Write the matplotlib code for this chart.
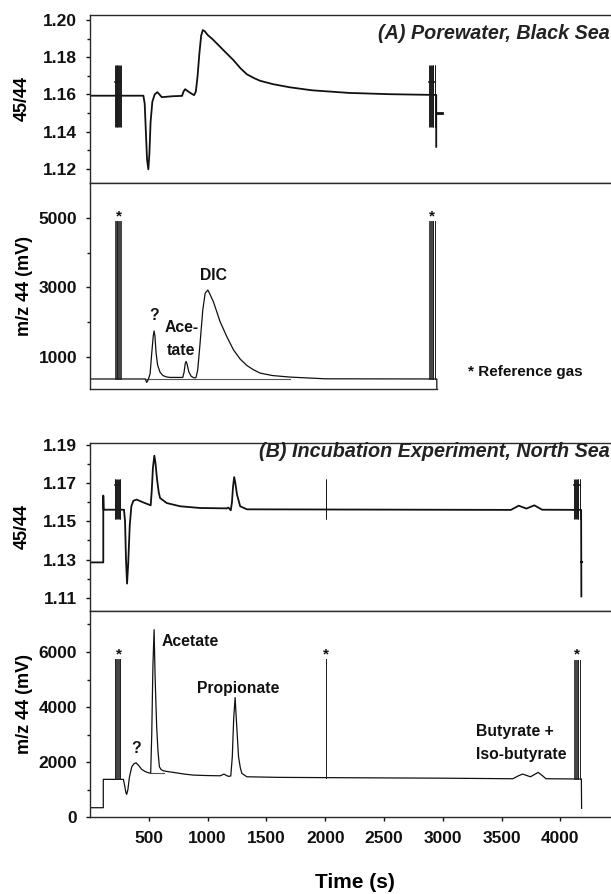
import matplotlib
matplotlib.use("Agg")
import matplotlib.pyplot as plt
from matplotlib.ticker import FixedLocator, FormatStrFormatter, NullLocator

# ---------------- data ----------------
# (A) Porewater, Black Sea -- 45/44 ratio trace (time s, ratio)
a_ratio_t = [0, 454, 465, 475, 485, 496, 505, 515, 530, 550, 573, 590, 610, 700, 783, 795, 809, 830,
             860, 885, 900, 915, 930, 945, 959, 975, 1000, 1040, 1078, 1150, 1220, 1280, 1334, 1400,
             1447, 1556, 1700, 1887, 2200, 2551, 2940, 2944, 2944]
a_ratio_v = [1.1593, 1.1593, 1.155, 1.140, 1.125, 1.1197, 1.128, 1.145, 1.156, 1.160, 1.1612, 1.160,
             1.1585, 1.1590, 1.1592, 1.1615, 1.1628, 1.1618, 1.1605, 1.1596, 1.1615, 1.170, 1.182,
             1.1915, 1.1946, 1.1940, 1.1920, 1.1898, 1.1874, 1.1828, 1.1784, 1.1740, 1.1708, 1.1686,
             1.1673, 1.1655, 1.1638, 1.1622, 1.1608, 1.1601, 1.1597, 1.1597, 1.1318]
a_ratio_tail_t = [2946, 2992]
a_ratio_tail_v = [1.1498, 1.1498]

# (A) m/z 44 trace (time s, mV)
a_mass_t = [0, 470, 482, 495, 511, 525, 538, 545, 552, 562, 575, 595, 620, 650, 681, 789, 800, 810,
            817, 825, 840, 860, 880, 894, 902, 916, 936, 959, 979, 1002, 1020, 1049, 1106, 1163, 1220,
            1277, 1334, 1390, 1447, 1550, 1700, 1850, 2000, 2949, 2949]
a_mass_v = [350, 350, 250, 330, 500, 1100, 1600, 1740, 1600, 1100, 750, 550, 450, 410, 395, 395, 550,
            800, 856, 790, 560, 430, 390, 380, 400, 616, 1387, 2348, 2830, 2925, 2800, 2587, 2010,
            1577, 1193, 925, 740, 616, 520, 450, 405, 380, 355, 350, 60]
a_bg_t = [470, 1700]
a_bg_v = [350, 350]

# reference gas pulses in (A)
a_ref_t = [212, 227, 242, 257, 2885, 2900, 2915, 2930]
a_ref_base = 350
a_ref_top = 4925
a_ref_hi, a_ref_lo, a_ref_mid = 1.1758, 1.1426, 1.1665
a_star_t = [247, 2909]

# (B) Incubation experiment, North Sea -- 45/44 ratio trace
b_ratio_t = [0, 113, 113, 116, 289, 298, 306, 315, 325, 338, 352, 369, 397, 450, 516, 525, 535, 547,
             556, 570, 585, 596, 652, 766, 936, 1163, 1177, 1197, 1207, 1216, 1226, 1236, 1250, 1277,
             1334, 3579, 3645, 3711, 3778, 3844, 4176, 4178]
b_ratio_v = [1.1285, 1.1285, 1.1635, 1.1561, 1.1561, 1.150, 1.130, 1.1174, 1.128, 1.148, 1.158,
             1.1608, 1.1614, 1.1600, 1.1584, 1.166, 1.178, 1.1844, 1.181, 1.172, 1.165, 1.1622, 1.1596,
             1.1579, 1.1570, 1.1568, 1.1572, 1.1558, 1.160, 1.168, 1.1732, 1.170, 1.164, 1.1579,
             1.1563, 1.1560, 1.1582, 1.1567, 1.1584, 1.1561, 1.1560, 1.1107]
b_ratio_tail_t = [4178, 4185]
b_ratio_tail_v = [1.1285, 1.1285]

# (B) m/z 44 trace
b_mass_t = [0, 113, 113, 284, 295, 305, 312, 322, 335, 355, 375, 391, 410, 440, 470, 497, 516, 525,
            535, 545, 553, 560, 567, 578, 590, 605, 624, 660, 709, 800, 879, 1000, 1106, 1125, 1140,
            1155, 1177, 1197, 1210, 1222, 1234, 1245, 1263, 1278, 1291, 1334, 1600, 2000, 2500, 3000,
            3595, 3640, 3678, 3745, 3811, 3850, 3877, 4178, 4180]
b_mass_v = [348, 348, 1377, 1377, 1150, 900, 833, 1000, 1450, 1833, 1950, 1978, 1900, 1739, 1660,
            1616, 1600, 3000, 5500, 6811, 5200, 4200, 3283, 2400, 1833, 1730, 1688, 1660, 1630, 1570,
            1532, 1515, 1507, 1540, 1569, 1530, 1485, 1500, 2200, 3600, 4348, 3500, 2196, 1800, 1594,
            1471, 1450, 1440, 1430, 1420, 1400, 1500, 1569, 1471, 1630, 1500, 1400, 1390, 326]
b_bg_t = [516, 630]
b_bg_v = [1616, 1616]

# reference gas pulses in (B): (start times, base, top)
b_ref_groups = [([209, 224, 239, 254], 1377, 5760),
                ([2005], 1440, 5760),
                ([4116, 4132, 4148, 4164], 1390, 5700)]
b_ref_hi, b_ref_lo, b_ref_mid = 1.1722, 1.1513, 1.1692
b_star_t = [247, 2010, 4140]
b_star_v = 5760

# peak labels (text, time, value)
a_labels = [("?", 545, 2200), ("Ace-", 780, 1850), ("tate", 772, 1166), ("DIC", 1049, 3358)]
b_labels = [("?", 391, 2500)]
b_left_labels = [("Acetate", 610, 6400), ("Propionate", 909, 4674),
                 ("Butyrate +", 3280, 3127), ("Iso-butyrate", 3280, 2283)]

x_ticks = [500, 1000, 1500, 2000, 2500, 3000, 3500, 4000]

# ---------------- style ----------------
INK = "#111111"
SPINE = "#2a2a2a"
NARROW = ["Liberation Sans Narrow", "Liberation Sans", "DejaVu Sans"]
WIDE = ["Liberation Sans", "DejaVu Sans"]
plt.rcParams["font.family"] = NARROW
plt.rcParams["font.weight"] = "bold"

TICK_FS = 12.5
YLAB_FS = 13
TITLE_FS = 14.2
NOTE_FS = 11.3

W, H = 611.0, 894.0
fig = plt.figure(figsize=(W / 100, H / 100), dpi=100)


def add_panel(top_px, bottom_px):
    return fig.add_axes([90 / W, 1 - bottom_px / H, 521 / W, (bottom_px - top_px) / H])


ax_a1 = add_panel(15, 182.7)
ax_a2 = add_panel(182.7, 389)
ax_b1 = add_panel(442.7, 610.7)
ax_b2 = add_panel(610.7, 817.3)

for ax in (ax_a1, ax_a2, ax_b1, ax_b2):
    ax.set_xlim(0, 4430)
    ax.spines["right"].set_visible(False)
    for s in ("left", "top", "bottom"):
        ax.spines[s].set_color(SPINE)
        ax.spines[s].set_linewidth(1.0)
    ax.tick_params(axis="y", which="major", direction="out", length=3.2, width=1.0,
                   pad=6, labelsize=TICK_FS, colors=INK)
    ax.tick_params(axis="y", which="minor", direction="out", length=2.0, width=1.0, colors=INK)
    ax.xaxis.set_major_locator(NullLocator())
    ax.xaxis.set_minor_locator(NullLocator())

# ---- (A) 45/44 ----
ax_a1.set_ylim(1.1125, 1.2027)
ax_a1.yaxis.set_major_locator(FixedLocator([1.12, 1.14, 1.16, 1.18, 1.20]))
ax_a1.yaxis.set_minor_locator(FixedLocator([1.13, 1.15, 1.17, 1.19]))
ax_a1.yaxis.set_major_formatter(FormatStrFormatter("%.2f"))
ax_a1.plot(a_ratio_t, a_ratio_v, color=INK, lw=1.3)
ax_a1.plot(a_ratio_tail_t, a_ratio_tail_v, color=INK, lw=2.0)
for t in a_ref_t:
    ax_a1.vlines([t, t + 5], a_ref_lo, a_ref_hi, color="#1a1a1a", lw=0.7)
for grp in (a_ref_t[:4], a_ref_t[4:]):
    ax_a1.plot([grp[0], grp[-1] + 5], [a_ref_mid, a_ref_mid], color="#1a1a1a", lw=1.2)
ax_a1.text(0.997, 0.891, "(A) Porewater, Black Sea", transform=ax_a1.transAxes, ha="right",
           va="center", fontsize=TITLE_FS, fontweight="bold", fontstyle="italic", color="#222222")
ax_a1.set_ylabel("45/44", fontsize=YLAB_FS, fontweight="bold", va="center")
ax_a1.yaxis.set_label_coords(-0.13, 0.5)

# ---- (A) m/z 44 ----
ax_a2.set_ylim(60, 6030)
ax_a2.yaxis.set_major_locator(FixedLocator([1000, 3000, 5000]))
ax_a2.yaxis.set_minor_locator(FixedLocator([2000, 4000]))
ax_a2.spines["bottom"].set_bounds(0, 2949)
ax_a2.plot(a_bg_t, a_bg_v, color="#555555", lw=0.8)
ax_a2.plot(a_mass_t, a_mass_v, color=INK, lw=0.9)
for t in a_ref_t:
    ax_a2.plot([t, t, t + 5, t + 5], [a_ref_base, a_ref_top, a_ref_top, a_ref_base],
               color="#222222", lw=0.6)
for t in a_star_t:
    ax_a2.text(t, a_ref_top, "*", ha="center", va="baseline", fontsize=11, family=WIDE, color=INK)
for txt, t, v in a_labels:
    ax_a2.text(t, v, txt, ha="center", va="center", fontsize=NOTE_FS, family=WIDE,
               fontweight="bold", color=INK)
ax_a2.text(3214, 538, "* Reference gas", ha="left", va="center", fontsize=11, family=WIDE,
           fontweight="bold", color=INK)
ax_a2.set_ylabel("m/z 44 (mV)", fontsize=YLAB_FS, fontweight="bold", va="center")
ax_a2.yaxis.set_label_coords(-0.126, 0.5)

# ---- (B) 45/44 ----
ax_b1.set_ylim(1.1032, 1.1912)
ax_b1.yaxis.set_major_locator(FixedLocator([1.11, 1.13, 1.15, 1.17, 1.19]))
ax_b1.yaxis.set_minor_locator(FixedLocator([1.12, 1.14, 1.16, 1.18]))
ax_b1.yaxis.set_major_formatter(FormatStrFormatter("%.2f"))
ax_b1.plot(b_ratio_t, b_ratio_v, color=INK, lw=1.3)
ax_b1.plot(b_ratio_tail_t, b_ratio_tail_v, color=INK, lw=1.5)
for times, _, _ in b_ref_groups:
    for t in times:
        ax_b1.vlines([t, t + 5], b_ref_lo, b_ref_hi, color="#1a1a1a", lw=0.7)
    ax_b1.plot([times[0], times[-1] + 5], [b_ref_mid, b_ref_mid], color="#1a1a1a", lw=1.2)
ax_b1.text(0.997, 0.946, "(B) Incubation Experiment, North Sea", transform=ax_b1.transAxes,
           ha="right", va="center", fontsize=TITLE_FS, fontweight="bold", fontstyle="italic",
           color="#222222")
ax_b1.set_ylabel("45/44", fontsize=YLAB_FS, fontweight="bold", va="center")
ax_b1.yaxis.set_label_coords(-0.13, 0.5)

# ---- (B) m/z 44 ----
ax_b2.set_ylim(0, 7500)
ax_b2.yaxis.set_major_locator(FixedLocator([0, 2000, 4000, 6000]))
ax_b2.yaxis.set_minor_locator(FixedLocator([1000, 3000, 5000, 7000]))
ax_b2.plot(b_bg_t, b_bg_v, color="#555555", lw=0.8)
ax_b2.plot(b_mass_t, b_mass_v, color=INK, lw=0.9)
for times, base, top in b_ref_groups:
    for t in times:
        ax_b2.plot([t, t, t + 5, t + 5], [base, top, top, base], color="#222222", lw=0.6)
for t in b_star_t:
    ax_b2.text(t, b_star_v, "*", ha="center", va="baseline", fontsize=11, family=WIDE, color=INK)
for txt, t, v in b_labels:
    ax_b2.text(t, v, txt, ha="center", va="center", fontsize=NOTE_FS, family=WIDE,
               fontweight="bold", color=INK)
for txt, t, v in b_left_labels:
    ax_b2.text(t, v, txt, ha="left", va="center", fontsize=NOTE_FS, family=WIDE,
               fontweight="bold", color=INK)
ax_b2.xaxis.set_major_locator(FixedLocator(x_ticks))
ax_b2.tick_params(axis="x", which="major", direction="out", length=3.2, width=1.0, pad=7,
                  labelsize=12.5, colors=INK)
ax_b2.set_ylabel("m/z 44 (mV)", fontsize=YLAB_FS, fontweight="bold", va="center")
ax_b2.yaxis.set_label_coords(-0.126, 0.55)
ax_b2.set_xlabel("Time (s)", fontsize=15, fontweight="bold", va="center")
ax_b2.xaxis.set_label_coords(0.508, -0.318)

for ax in (ax_a1, ax_a2, ax_b1, ax_b2):
    for lab in ax.get_yticklabels() + ax.get_xticklabels():
        lab.set_fontweight("bold")

fig.savefig("out.png", dpi=100)
